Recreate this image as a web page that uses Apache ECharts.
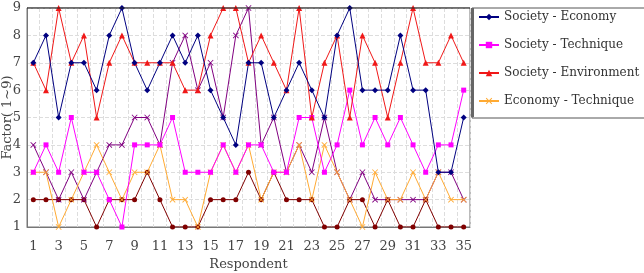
<!DOCTYPE html>
<html>
<head>
<meta charset="utf-8">
<script src="https://cdn.jsdelivr.net/npm/echarts@6/dist/echarts.min.js"></script>
<style>
  html, body { margin: 0; padding: 0; background: #fff; }
  #chart { width: 644px; height: 273px; }
</style>
</head>
<body>
<div id="chart"></div>
<script>
// respondents 1..35
var respondents = [];
for (var i = 1; i <= 35; i++) respondents.push(String(i));

var societyEconomy     = [7,8,5,7,7,6,8,9,7,6,7,8,7,8,6,5,4,7,7,5,6,7,6,5,8,9,6,6,6,8,6,6,3,3,5];
var societyTechnique   = [3,4,3,5,3,3,2,1,4,4,4,5,3,3,3,4,3,4,4,3,3,5,5,3,4,6,4,5,4,5,4,3,4,4,6];
var societyEnvironment = [7,6,9,7,8,5,7,8,7,7,7,7,6,6,8,9,9,7,8,7,6,9,5,7,8,5,8,7,5,7,9,7,7,8,7];
var economyTechnique   = [3,3,1,2,3,4,3,2,3,3,4,2,2,1,3,4,3,4,2,3,3,4,2,4,3,2,1,3,2,2,3,2,3,2,2];
var economyEnvironment = [2,2,2,2,2,1,2,2,2,3,2,1,1,1,2,2,2,3,2,3,2,2,2,1,1,2,2,1,2,1,1,2,1,1,1];
var techEnvironment    = [4,3,2,3,2,3,4,4,5,5,4,7,8,6,7,5,8,9,4,5,3,4,3,5,3,2,3,2,2,2,2,2,3,3,2];

var crossMark = 'path://M0,1L1,0L5,4L9,0L10,1L6,5L10,9L9,10L5,6L1,10L0,9L4,5Z';
var serif = '"DejaVu Serif", "Liberation Serif", serif';

var chartDom = document.getElementById('chart');
var myChart = echarts.init(chartDom);

function lineSeries(name, data, color, symbol, size) {
  return {
    name: name,
    type: 'line',
    data: data,
    symbol: symbol,
    symbolSize: size,
    showAllSymbol: true,
    lineStyle: { color: color, width: 1 },
    itemStyle: { color: color },
    emphasis: { disabled: true },
    animation: false
  };
}

var option = {
  backgroundColor: '#fff',
  textStyle: { fontFamily: serif },
  grid: {
    left: 27,
    right: 174,
    top: 8,
    bottom: 46,
    outerBoundsMode: 'none',
    containLabel: false,
    show: true,
    borderColor: '#777',
    borderWidth: 1
  },
  graphic: [{
    // dark top edge of the plot frame
    type: 'line',
    shape: { x1: 27, y1: 8, x2: 470, y2: 8 },
    style: { stroke: '#222', lineWidth: 1 },
    z: 10
  }, {
    // heavier left edge of the legend frame
    type: 'rect',
    shape: { x: 471, y: 8, width: 3, height: 109 },
    style: { fill: '#666' },
    z: 10
  }],
  legend: {
    data: ['Society - Economy', 'Society - Technique', 'Society - Environment', 'Economy - Technique'],
    orient: 'vertical',
    left: 472,
    top: 8,
    padding: [3, 60, 11, 6],
    itemGap: 16,
    itemWidth: 20,
    itemHeight: 8,
    backgroundColor: '#fff',
    borderColor: '#555',
    borderWidth: 1,
    textStyle: { fontFamily: serif, fontSize: 12, color: '#333' }
  },
  xAxis: {
    type: 'category',
    data: respondents,
    boundaryGap: true,
    name: 'Respondent',
    nameLocation: 'middle',
    nameGap: 31,
    nameMoveOverlap: false,
    nameTextStyle: { fontFamily: serif, fontSize: 13, color: '#444' },
    axisLine: { lineStyle: { color: '#777' } },
    axisTick: { inside: true, length: 4, interval: 0, lineStyle: { color: '#777' } },
    axisLabel: { interval: 1, margin: 13, fontFamily: serif, fontSize: 13, color: '#444' },
    splitLine: { show: true, interval: 0, lineStyle: { type: 'dashed', color: '#ddd' } }
  },
  yAxis: {
    type: 'value',
    min: 1,
    max: 9,
    interval: 1,
    name: 'Factor( 1~9)',
    nameLocation: 'middle',
    nameGap: 13,
    nameMoveOverlap: false,
    nameTextStyle: { fontFamily: serif, fontSize: 13, color: '#444' },
    axisLine: { show: true, lineStyle: { color: '#777' } },
    axisTick: { show: false },
    axisLabel: { margin: 6, fontFamily: serif, fontSize: 13, color: '#444' },
    splitLine: { lineStyle: { type: 'dashed', color: '#ddd' } }
  },
  series: [
    lineSeries('Economy - Environment', economyEnvironment, '#800000', 'circle', 5),
    lineSeries('Technique - Environment', techEnvironment, '#800080', crossMark, 6),
    lineSeries('Economy - Technique', economyTechnique, '#ffaa33', crossMark, 6),
    lineSeries('Society - Technique', societyTechnique, '#ff00ff', 'rect', 5),
    lineSeries('Society - Environment', societyEnvironment, '#f01818', 'triangle', 6),
    lineSeries('Society - Economy', societyEconomy, '#000080', 'diamond', 6)
  ]
};

option && myChart.setOption(option);
</script>
</body>
</html>
